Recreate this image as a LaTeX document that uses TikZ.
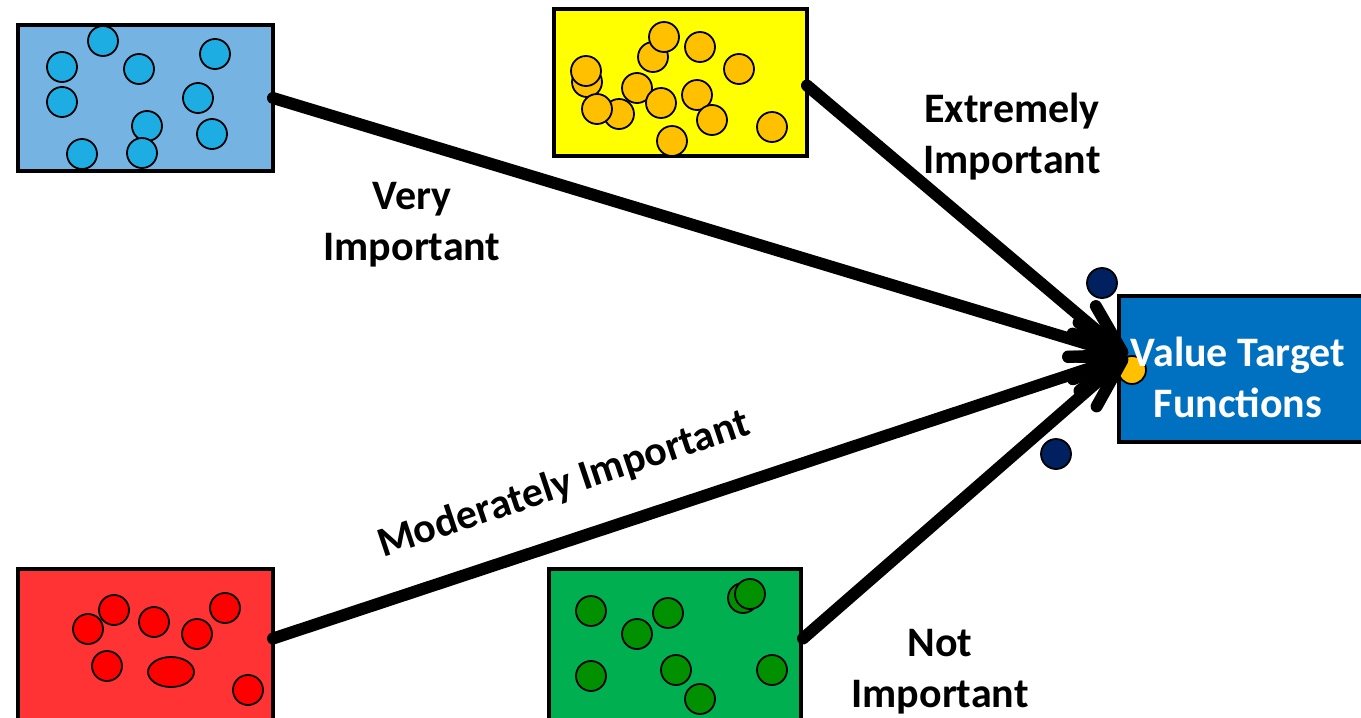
\documentclass[tikz,border=0pt]{standalone}
\usepackage{fontspec}
\setmainfont{Carlito}
\usetikzlibrary{arrows.meta}

\definecolor{skypanel}{HTML}{74B3E2}
\definecolor{skyball}{HTML}{1EADE2}
\definecolor{sunpanel}{HTML}{FFFF00}
\definecolor{sunball}{HTML}{FFC000}
\definecolor{redpanel}{HTML}{FF3333}
\definecolor{redball}{HTML}{FF0000}
\definecolor{greenpanel}{HTML}{00B050}
\definecolor{greenball}{HTML}{009000}
\definecolor{targetblue}{HTML}{0070C0}
\definecolor{navyball}{HTML}{002060}

\begin{document}
\begin{tikzpicture}[x=1pt,y=-1pt,
  panel/.style={draw=black, line width=4pt, inner sep=0pt, outer sep=0pt},
  dot/.style={draw=black, line width=1.8pt},
  link/.style={line width=12pt, line cap=round,
    -{Straight Barb[length=50pt,width=36pt,round]}},
  lbl/.style={font=\bfseries\fontsize{42}{51}\selectfont, align=center, inner sep=0pt}]

\useasboundingbox (0,0) rectangle (1361,718);
\clip (0,0) rectangle (1361,718);

% source panels
\node[panel, fill=skypanel,   minimum width=255pt, minimum height=146pt] (sky)   at (145.5,98) {};
\node[panel, fill=sunpanel,   minimum width=253pt, minimum height=147pt] (sun)   at (680.5,82.5) {};
\node[panel, fill=redpanel,   minimum width=255pt, minimum height=151pt] (red)   at (145.5,644.5) {};
\node[panel, fill=greenpanel, minimum width=252pt, minimum height=151pt] (green) at (675,644.5) {};

% target panel
\node[panel, fill=targetblue, minimum width=245pt, minimum height=146pt] (target) at (1241.5,369) {};

% balls in the sky-blue panel
\foreach \x/\y in {103/41, 62/67, 139/69, 215/54, 62/102, 198/98, 147/126, 212/134, 82/154, 142/153}
  \draw[dot, fill=skyball] (\x,\y) circle[radius=15pt];

% balls in the yellow panel
\foreach \x/\y in {653/57, 664/37, 700/47, 587/82, 586/71, 739/69, 619/114, 597/109, 637/88, 661/103, 697/95, 712/120, 672/141, 772/127}
  \draw[dot, fill=sunball] (\x,\y) circle[radius=15pt];

% balls in the red panel
\foreach \x/\y in {88/629, 114/610, 154/622, 197/634, 225/608, 107/666, 248/690}
  \draw[dot, fill=redball] (\x,\y) circle[radius=15pt];
\draw[dot, fill=redball] (171,672) ellipse[x radius=23pt, y radius=15pt];

% balls in the green panel
\foreach \x/\y in {591/611, 637/634, 668/613, 743/598, 750/594, 591/676, 676/670, 700/699, 772/670}
  \draw[dot, fill=greenball] (\x,\y) circle[radius=15pt];

% loose balls around the target
\draw[dot, fill=navyball] (1102,283) circle[radius=15pt];
\draw[dot, fill=navyball] (1056,454) circle[radius=15pt];
\draw[dot, fill=sunball] (1132,370) circle[radius=14pt];

% connectors
\coordinate (hub) at (1127,356);
\draw[link] (sky.east) -- (hub);
\draw[link] ([yshift=-3pt]sun.east) -- (hub);
\draw[link] ([yshift=6pt]red.east) -- (hub);
\draw[link] ([xshift=2pt,yshift=6pt]green.east) -- (hub);

% labels
\node[lbl] (vimp) at (412,225) {Very\\Important};
\node[lbl] (eimp) at (1012,137) {Extremely\\Important};
\node[lbl] (nimp) at (940,672) {Not\\Important};
\node[lbl, rotate=18.5] (mimp) at (564,485) {Moderately Important};
\node[lbl, text=white] (ttext) at (1238,377) {Value Target\\Functions};
\end{tikzpicture}
\end{document}
